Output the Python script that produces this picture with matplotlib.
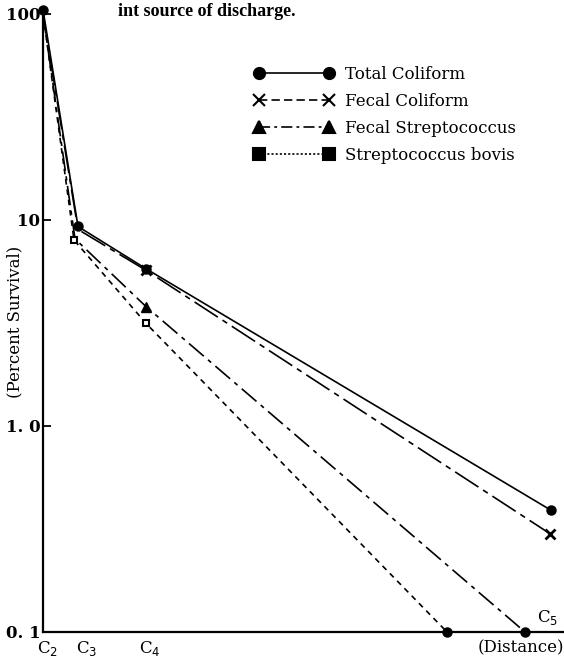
import matplotlib
matplotlib.use("Agg")
import matplotlib.pyplot as plt
from matplotlib.lines import Line2D
from matplotlib.transforms import blended_transform_factory

plt.rcParams['font.family'] = ['DejaVu Serif', 'Liberation Serif']
plt.rcParams['lines.scale_dashes'] = False

# Data (distance in arbitrary units, C2 at 0)
station_x = [0, 35, 103]
station_labels = ["C$_2$", "C$_3$", "C$_4$"]

series_names = ["Total Coliform", "Fecal Coliform", "Fecal Streptococcus", "Streptococcus bovis"]
series_x = [
    [0, 35, 103, 508],
    [0, 35, 103, 507],
    [0, 32, 103, 482],
    [0, 31, 103, 404],
]
series_y = [
    [105, 9.3, 5.8, 0.39],
    [100, 9.0, 5.7, 0.30],
    [100, 8.1, 3.8, 0.10],
    [100, 8.0, 3.15, 0.10],
]
series_markers = [
    ['o', 'o', 'o', 'o'],
    [None, None, 'x', 'x'],
    [None, None, '^', 'o'],
    [None, 's', 's', 'o'],
]
legend_markers = ['o', 'x', '^', 's']
series_dashes = [None, (20, 4, 4, 4), (14, 4, 3, 4), (4, 3.5)]
legend_dashes = [None, (6, 3), (8, 3, 2, 3), (1.5, 1.5)]

fig = plt.figure(figsize=(5.64, 6.6), dpi=100)
ax = fig.add_axes([43/564, 28/660, 521/564, 618/660])
ax.set_yscale('log')
ax.set_ylim(0.1, 100)
ax.set_xlim(0, 521)

for xs, ys, mk, ds in zip(series_x, series_y, series_markers, series_dashes):
    ln, = ax.plot(xs, ys, color='black', lw=1.2, clip_on=False)
    if ds is not None:
        ln.set_dashes(ds)
    for x, y, m in zip(xs, ys, mk):
        if m is None:
            continue
        if m == 's':
            ax.plot([x], [y], marker='s', ms=5, mfc='white', mec='black', mew=1.5, clip_on=False)
        elif m == 'x':
            ax.plot([x], [y], marker='x', ms=7, color='black', mew=2, clip_on=False)
        else:
            ax.plot([x], [y], marker=m, ms=7 if m != 'o' else 6.5, color='black', clip_on=False)

for side in ['top', 'right']:
    ax.spines[side].set_visible(False)
ax.spines['left'].set_linewidth(1.6)
ax.spines['bottom'].set_linewidth(1.6)

ax.set_yticks([0.1, 1.0, 10, 100])
ax.set_yticklabels(["0. 1", "1. 0", "10", "100"])
ax.yaxis.set_minor_locator(matplotlib.ticker.NullLocator())
ax.tick_params(axis='y', direction='in', length=6, width=1.3, labelsize=12, pad=2)
for lbl in ax.get_yticklabels():
    lbl.set_fontweight('bold')
ax.set_xticks([])

trans = blended_transform_factory(ax.transData, ax.transAxes)
label_offsets = [5, 9, 4]
for x, lab, off in zip(station_x, station_labels, label_offsets):
    ax.text(x + off, -0.012, lab, transform=trans, fontsize=12, ha='center', va='top')

fig.text(15/564, 1 - 322/660, "(Percent Survival)", rotation=90, fontsize=12,
         ha='center', va='center')

ax.text(494, 0.106, "C$_5$", fontsize=12, ha='left', va='bottom')
ax.text(1.0, -0.012, "(Distance)", transform=ax.transAxes, fontsize=12, ha='right', va='top')

fig.text(118/564, 1 - 11/660, "int source of discharge.", fontsize=13, fontweight='bold',
         family='Liberation Serif', ha='left', va='center')

handles = []
for name, lm, ds in zip(series_names, legend_markers, legend_dashes):
    h = Line2D([], [], color='black', lw=1.2, marker=lm, ms=8 if lm != 'x' else 9,
               mew=1.5, label=name)
    if ds is not None:
        h.set_dashes(ds)
    handles.append(h)
leg = ax.legend(handles=handles, numpoints=2, frameon=False, loc='upper left',
                bbox_to_anchor=(204/521, 1 - 45/618), handlelength=4.8, handletextpad=0.7,
                labelspacing=0.6, fontsize=12, borderaxespad=0)

fig.savefig("out.png", dpi=100)
